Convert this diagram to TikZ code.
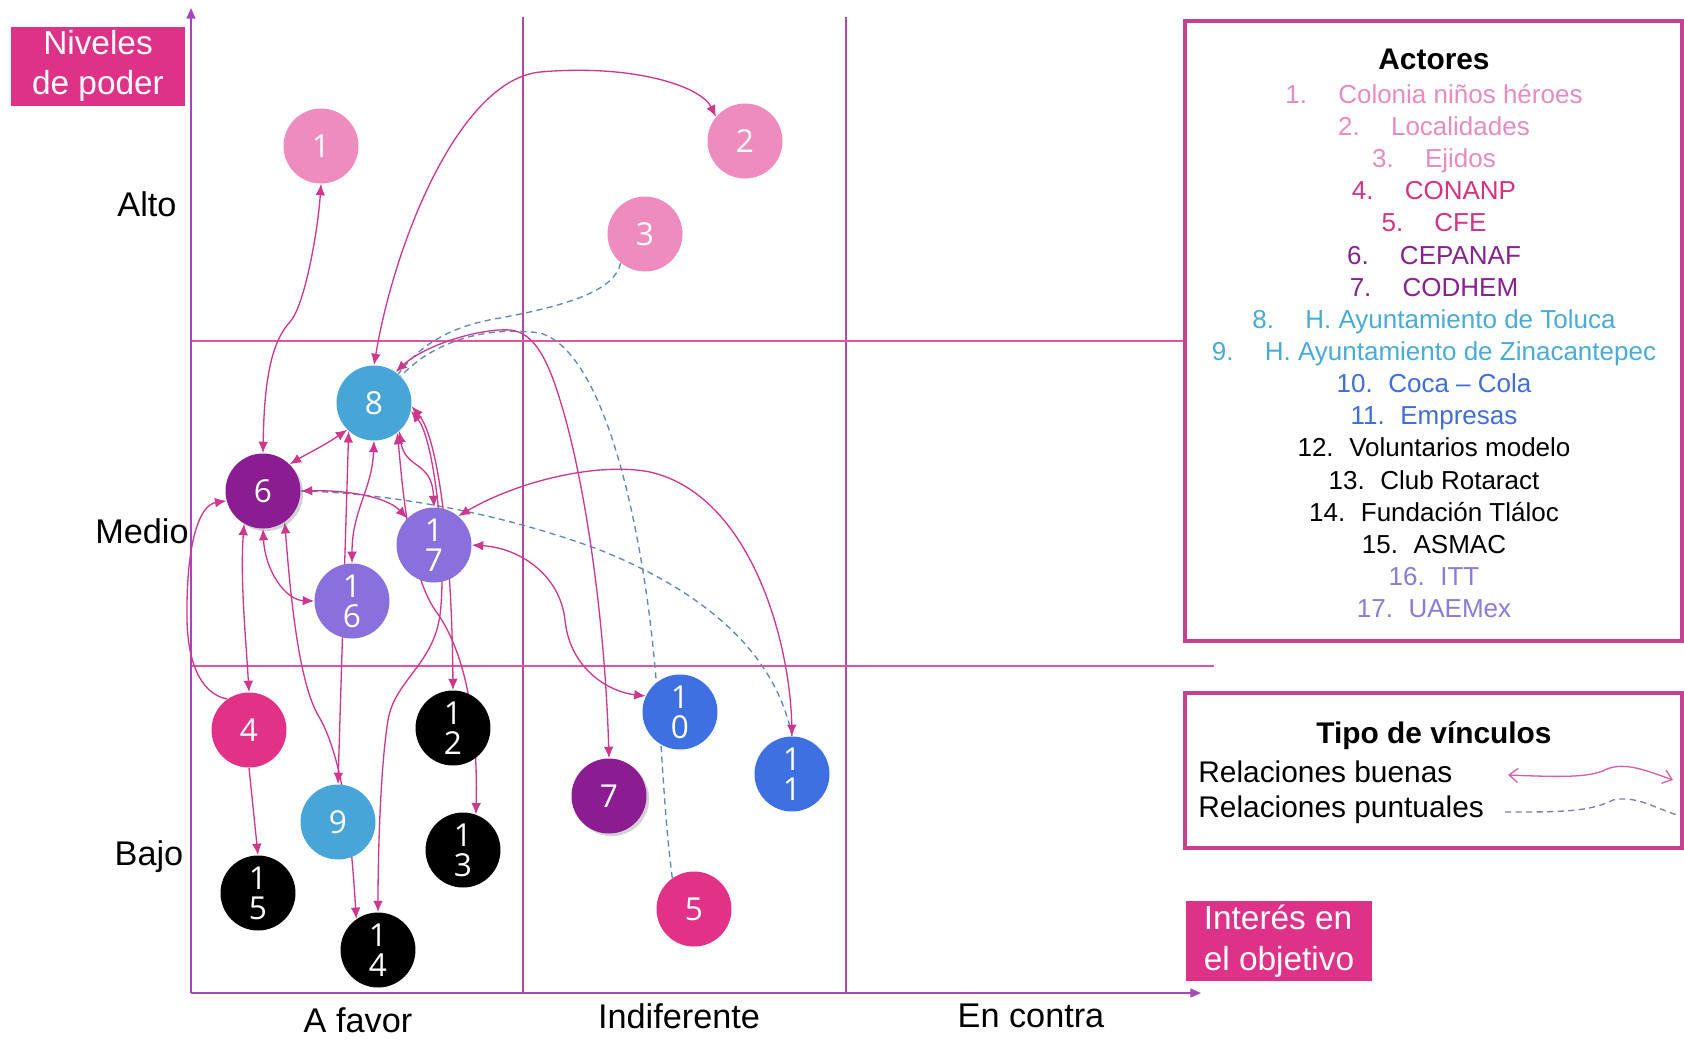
\documentclass[tikz,border=0pt]{standalone}
\usepackage{fontspec}
\setmainfont{Liberation Sans}
\newfontfamily\numfont{Open Sans}
\usetikzlibrary{arrows.meta,shadows}

\definecolor{pinkA}{RGB}{238,140,192}
\definecolor{magA}{RGB}{226,50,135}
\definecolor{purA}{RGB}{140,28,145}
\definecolor{bluA}{RGB}{72,165,215}
\definecolor{bluB}{RGB}{62,112,225}
\definecolor{lavA}{RGB}{138,112,220}
\definecolor{linkc}{RGB}{205,55,140}
\definecolor{dashc}{RGB}{95,135,185}
\definecolor{axisc}{RGB}{165,70,185}
\definecolor{hgridc}{RGB}{225,85,160}
\definecolor{vgridc}{RGB}{175,75,165}
\definecolor{tagc}{RGB}{222,50,137}
\definecolor{boxc}{RGB}{200,65,145}
% colours of the list of actors
\definecolor{txA}{RGB}{230,140,190}
\definecolor{txB}{RGB}{214,50,130}
\definecolor{txC}{RGB}{135,35,140}
\definecolor{txD}{RGB}{75,170,215}
\definecolor{txE}{RGB}{65,110,215}
\definecolor{txF}{RGB}{138,125,216}

\pgfdeclarelayer{grid}
\pgfdeclarelayer{links}
\pgfsetlayers{grid,links,main}

\begin{document}
\begin{tikzpicture}[x=0.02cm, y=-0.02cm, >={Latex[length=6.5pt,width=5.5pt]},
    actor/.style={circle, minimum size=1.5cm, inner sep=0pt, text=white, align=center,
        font=\numfont\fontsize{18}{17}\selectfont},
    lifted/.style={drop shadow={shadow xshift=1.5pt, shadow yshift=-1.5pt, opacity=0.35}},
    good/.style={<->, draw=linkc, line width=0.75pt},
    oneway/.style={->, draw=linkc, line width=0.75pt},
    punctual/.style={draw=dashc, line width=0.75pt, dash pattern=on 3.5pt off 2.5pt},
    axisline/.style={draw=axisc, line width=0.9pt, -{Triangle[length=6pt,width=5pt]}},
    hgrid/.style={draw=hgridc, line width=0.9pt},
    vgrid/.style={draw=vgridc, line width=0.8pt},
    tagbox/.style={fill=tagc, text=white, inner sep=0pt, font=\fontsize{19}{23}\selectfont},
    lvl/.style={font=\fontsize{19.5}{22}\selectfont},
    legendbox/.style={draw=boxc, line width=2.2pt}]

    \useasboundingbox (0,0) rectangle (1684,1039);

    % actors
    \node[actor, fill=pinkA] (n1) at (321,146) {1};
    \node[actor, fill=pinkA] (n2) at (745,141) {2};
    \node[actor, fill=pinkA] (n3) at (645,234) {3};
    \node[actor, fill=bluA] (n8) at (374,403) {8};
    \node[actor, fill=purA, lifted] (n6) at (263,491) {6};
    \node[actor, fill=lavA] (n17) at (434,545) {1\\7};
    \node[actor, fill=lavA] (n16) at (352,601) {1\\6};
    \node[actor, fill=magA] (n4) at (249,730) {4};
    \node[actor, fill=black] (n12) at (453,728) {1\\2};
    \node[actor, fill=bluB] (n10) at (680,712) {1\\0};
    \node[actor, fill=bluB] (n11) at (792,774) {1\\1};
    \node[actor, fill=purA, lifted] (n7) at (609,796) {7};
    \node[actor, fill=bluA] (n9) at (338,822) {9};
    \node[actor, fill=black] (n13) at (463,850) {1\\3};
    \node[actor, fill=black] (n15) at (258,893) {1\\5};
    \node[actor, fill=magA] (n5) at (694,909) {5};
    \node[actor, fill=black] (n14) at (378,950) {1\\4};

    % axes and grid
    \coordinate (origin) at (191,993);
    \coordinate (ytop) at (191,8);
    \coordinate (xend) at (1201,993);
    \begin{pgfonlayer}{grid}
        \fill[white] (0,0) rectangle (1684,1039);
        \draw[vgrid] (523,17) -- (523,993);
        \draw[vgrid] (846,17) -- (846,993);
        \draw[hgrid] (191,341) -- (1185,341);
        \draw[hgrid] (191,666) -- (1214,666);
        \draw[axisline] (origin) -- (ytop);
        \draw[axisline] (origin) -- (xend);
    \end{pgfonlayer}

    \node[tagbox, minimum width=3.48cm, minimum height=1.58cm, align=center] (power) at (98,66) {Niveles\\de poder};
    \node[tagbox, minimum width=3.72cm, minimum height=1.6cm, align=left] (interest) at (1279,941) {Interés en\\el objetivo};

    \node[lvl] (alto) at (147,204) {Alto};
    \node[lvl] (medio) at (142,531) {Medio};
    \node[lvl] (bajo) at (149,857) {Bajo};
    \node[lvl] (favor) at (358,1020) {A favor};
    \node[lvl] (indif) at (679,1016) {Indiferente};
    \node[lvl] (contra) at (1031,1016) {En contra};

    % links
    \begin{pgfonlayer}{links}
        \draw[good] (n6.north) .. controls (264,395) and (268,345) .. (290,322)
            .. controls (305,305) and (318,230) .. (n1.south);
        \draw[good] (n8.north) .. controls (395,240) and (460,80) .. (540,72)
            .. controls (630,64) and (700,85) .. (n2.140);
        \draw[punctual] (n3.230) .. controls (615,290) and (570,305) .. (500,318)
            .. controls (450,326) and (420,345) .. (n8.50);
        \draw[punctual] (n5.125) .. controls (662,800) and (662,720) .. (650,620)
            .. controls (635,500) and (600,350) .. (540,333)
            .. controls (480,325) and (430,345) .. (n8.45);
        \draw[good] (n8.55) .. controls (425,345) and (480,328) .. (510,330)
            .. controls (530,332) and (545,350) .. (560,400)
            .. controls (585,480) and (605,620) .. (n7.north);
        \draw[punctual] (n6.east) .. controls (360,492) and (480,505) .. (600,550)
            .. controls (700,590) and (775,650) .. (n11.north);
        \draw[good] (n6.east) .. controls (340,490) and (385,495) .. (n17.135);
        \draw[good] (n17.50) .. controls (520,480) and (600,462) .. (650,472)
            .. controls (750,495) and (790,640) .. (n11.north);
        \draw[good] (n17.east) .. controls (520,548) and (560,575) .. (565,620)
            .. controls (570,670) and (610,692) .. (n10.155);
        \draw[good] (n6.45) .. controls (305,455) and (325,445) .. (n8.225);
        \draw[good] (n8.228) -- (n9.north);
        \draw[good] (n8.south) .. controls (372,490) and (352,510) .. (n16.north);
        \draw[good] (n8.-48) .. controls (405,470) and (432,460) .. (n17.north);
        \draw[good] (n8.-52) .. controls (402,480) and (408,570) .. (435,610)
            .. controls (465,650) and (478,720) .. (n13.70);
        \draw[good] (n8.-5) .. controls (440,440) and (452,560) .. (n12.north);
        \draw[good] (n8.-12) .. controls (435,440) and (447,560) .. (440,615)
            .. controls (433,665) and (395,680) .. (388,720)
            .. controls (380,770) and (378,860) .. (n14.north);
        \draw[oneway] (n4.125) .. controls (205,695) and (188,670) .. (187,620)
            .. controls (186,540) and (200,505) .. (n6.195);
        \draw[good] (n6.240) .. controls (240,580) and (246,640) .. (n4.north);
        \draw[good] (n6.south) .. controls (265,570) and (285,600) .. (n16.west);
        \draw[good] (n6.-55) .. controls (290,590) and (298,680) .. (318,715)
            .. controls (345,760) and (352,850) .. (n14.125);
        \draw[oneway] (n4.south) -- (n15.north);
    \end{pgfonlayer}

    % list of actors
    \draw[legendbox] (1185,21) rectangle (1682,641);
    \node[font=\bfseries\fontsize{17}{20}\selectfont] (actors) at (1434,59) {Actores};
    \node[align=center, font=\fontsize{14.8pt}{18.3pt}\selectfont] (actorlist) at (1434,351) {%
        \textcolor{txA}{1.\hspace{1.2em}Colonia niños héroes}\\
        \textcolor{txA}{2.\hspace{1.2em}Localidades}\\
        \textcolor{txA}{3.\hspace{1.2em}Ejidos}\\
        \textcolor{txB}{4.\hspace{1.2em}CONANP}\\
        \textcolor{txB}{5.\hspace{1.2em}CFE}\\
        \textcolor{txC}{6.\hspace{1.2em}CEPANAF}\\
        \textcolor{txC}{7.\hspace{1.2em}CODHEM}\\
        \textcolor{txD}{8.\hspace{1.2em}H. Ayuntamiento de Toluca}\\
        \textcolor{txD}{9.\hspace{1.2em}H. Ayuntamiento de Zinacantepec}\\
        \textcolor{txE}{10.\hspace{0.6em}Coca – Cola}\\
        \textcolor{txE}{11.\hspace{0.6em}Empresas}\\
        12.\hspace{0.6em}Voluntarios modelo\\
        13.\hspace{0.6em}Club Rotaract\\
        14.\hspace{0.6em}Fundación Tláloc\\
        15.\hspace{0.6em}ASMAC\\
        \textcolor{txF}{16.\hspace{0.6em}ITT}\\
        \textcolor{txF}{17.\hspace{0.6em}UAEMex}};

    % kinds of links
    \draw[legendbox] (1185,693) rectangle (1682,848);
    \node[font=\bfseries\fontsize{17}{20}\selectfont] (kinds) at (1434,736) {Tipo de vínculos};
    \node[anchor=west, font=\fontsize{17}{20}\selectfont, inner sep=0pt] (goodtxt) at (1198,772) {Relaciones buenas};
    \node[anchor=west, font=\fontsize{17}{20}\selectfont, inner sep=0pt] (punctxt) at (1198,810) {Relaciones puntuales};
    \coordinate (goodA) at (1508,775);
    \coordinate (goodB) at (1673,780);
    \coordinate (punA) at (1505,812);
    \coordinate (punB) at (1677,815);
    \draw[draw=linkc!80, line width=0.75pt, {Straight Barb[length=5pt,width=8pt]}-{Straight Barb[length=5pt,width=8pt]}]
        (goodA) .. controls (1560,777) and (1590,778) .. (1607,769)
        .. controls (1625,762) and (1645,770) .. (goodB);
    \draw[draw=lavA!60!gray, line width=0.75pt, dash pattern=on 3.5pt off 2.5pt]
        (punA) .. controls (1560,812) and (1590,812) .. (1613,800)
        .. controls (1635,795) and (1655,808) .. (punB);
\end{tikzpicture}
\end{document}
